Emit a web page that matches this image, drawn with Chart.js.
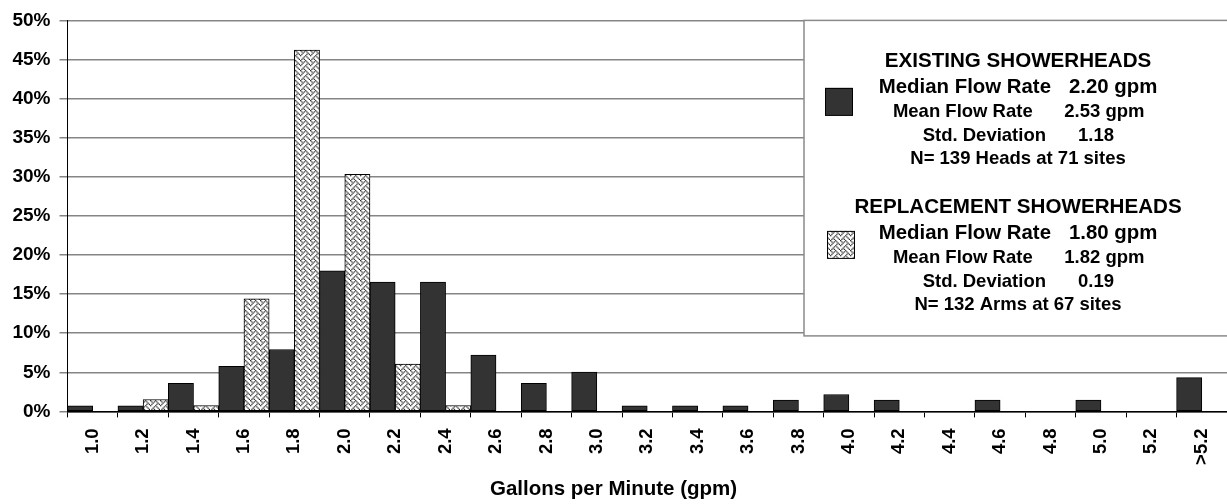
<!DOCTYPE html>
<html>
<head>
<meta charset="utf-8">
<script src="https://cdn.jsdelivr.net/npm/chart.js@4.4.1/dist/chart.umd.min.js"></script>
<style>
  html, body { margin: 0; padding: 0; background: #ffffff; }
  #c { display: block; }
</style>
</head>
<body>
<canvas id="c" width="1227" height="504"></canvas>
<script>
// ---- data ----
const categories = ['1.0','1.2','1.4','1.6','1.8','2.0','2.2','2.4','2.6','2.8','3.0','3.2','3.4','3.6','3.8','4.0','4.2','4.4','4.6','4.8','5.0','5.2','>5.2'];
const existingPct = [0.72,0.72,3.60,5.76,7.91,17.99,16.55,16.55,7.19,3.60,5.04,0.72,0.72,0.72,1.44,2.16,1.44,0,1.44,0,1.44,0,4.32];
const replacementPct = [0,1.52,0.76,14.39,46.21,30.30,6.06,0.76,0,0,0,0,0,0,0,0,0,0,0,0,0,0,0];
const yTicks = [0,5,10,15,20,25,30,35,40,45,50];
const xTitle = 'Gallons per Minute (gpm)';
const existingTitle = 'EXISTING SHOWERHEADS';
const existingLabels = ['Median Flow Rate','Mean Flow Rate','Std. Deviation'];
const existingValues = ['2.20 gpm','2.53 gpm','1.18'];
const existingN = 'N= 139 Heads at 71 sites';
const replacementTitle = 'REPLACEMENT SHOWERHEADS';
const replacementLabels = ['Median Flow Rate','Mean Flow Rate','Std. Deviation'];
const replacementValues = ['1.80 gpm','1.82 gpm','0.19'];
const replacementN = 'N= 132 Arms at 67 sites';

const FONT = 'Arial, "Liberation Sans", Helvetica, sans-serif';
const DARK = '#333333';

// weave pattern (slightly enlarged, smoothed)
function makePattern() {
  const bits = [0x88, 0x54, 0x22, 0x45, 0x88, 0x14, 0x22, 0x51];
  const base = document.createElement('canvas');
  base.width = 8; base.height = 8;
  const b = base.getContext('2d');
  b.fillStyle = '#ffffff';
  b.fillRect(0, 0, 8, 8);
  b.fillStyle = '#262626';
  for (let r = 0; r < 8; r++) {
    for (let c = 0; c < 8; c++) {
      if (bits[r] & (0x80 >> c)) b.fillRect(c, r, 1, 1);
    }
  }
  const pc = document.createElement('canvas');
  pc.width = 10; pc.height = 10;
  const p = pc.getContext('2d');
  p.imageSmoothingEnabled = true;
  p.drawImage(base, 0, 0, 10, 10);
  return p.createPattern(pc, 'repeat');
}
const weave = makePattern();

const legendBox = {
  id: 'legendBox',
  afterDraw(chart) {
    const ctx = chart.ctx;
    const ca = chart.chartArea;
    const left = ca.right - 423;
    const top = ca.top;
    const bottom = ca.top + 315.5;
    const right = ca.right + 2;
    ctx.save();
    ctx.fillStyle = '#ffffff';
    ctx.fillRect(left, top, right - left, bottom - top);
    ctx.strokeStyle = '#8a8a8a';
    ctx.lineWidth = 1.5;
    ctx.strokeRect(left, top, right - left, bottom - top);
    ctx.fillStyle = '#000000';
    const cx = left + 214;
    const blocks = [
      {y0: 0, title: existingTitle, labels: existingLabels, values: existingValues, n: existingN},
      {y0: 145.5, title: replacementTitle, labels: replacementLabels, values: replacementValues, n: replacementN}
    ];
    const labelRight = [33, 14.7, 28];
    const valueLeft = [51, 46.3, 60];
    const fonts = ['bold 20.4px ' + FONT, 'bold 18.5px ' + FONT, 'bold 18.5px ' + FONT];
    const lineBase = [72.6, 96.6, 120.6];
    blocks.forEach(b => {
      ctx.textBaseline = 'alphabetic';
      ctx.font = 'bold 20.6px ' + FONT;
      ctx.textAlign = 'center';
      ctx.fillText(b.title, cx, top + b.y0 + 46.6);
      for (let i = 0; i < 3; i++) {
        ctx.font = fonts[i];
        ctx.textAlign = 'right';
        ctx.fillText(b.labels[i], cx + labelRight[i], top + b.y0 + lineBase[i]);
        ctx.textAlign = 'left';
        ctx.fillText(b.values[i], cx + valueLeft[i], top + b.y0 + lineBase[i]);
      }
      ctx.font = 'bold 18.5px ' + FONT;
      ctx.textAlign = 'center';
      ctx.fillText(b.n, cx, top + b.y0 + 144);
    });
    // swatches
    ctx.lineWidth = 1;
    ctx.strokeStyle = '#000000';
    ctx.fillStyle = DARK;
    ctx.fillRect(left + 21, top + 67.5, 27.5, 27.5);
    ctx.strokeRect(left + 21.5, top + 68, 27, 27);
    ctx.fillStyle = weave;
    ctx.fillRect(left + 23, top + 210.5, 27.5, 27.5);
    ctx.strokeRect(left + 23.5, top + 211, 27, 27);
    ctx.restore();
  }
};

const chart = new Chart(document.getElementById('c'), {
  type: 'bar',
  data: {
    labels: categories,
    datasets: [
      { label: 'Existing Showerheads', data: existingPct, backgroundColor: DARK, borderColor: '#000000', borderWidth: 1, borderSkipped: false, categoryPercentage: 1.0, barPercentage: 1.0 },
      { label: 'Replacement Showerheads', data: replacementPct, backgroundColor: weave, borderColor: '#000000', borderWidth: 1, borderSkipped: false, categoryPercentage: 1.0, barPercentage: 1.0 }
    ]
  },
  options: {
    responsive: false,
    animation: false,
    devicePixelRatio: 1,
    layout: { padding: { top: 17, right: 0, left: 0, bottom: 0 } },
    plugins: {
      legend: { display: false },
      tooltip: { enabled: false },
      title: {
        display: true,
        position: 'bottom',
        text: xTitle,
        color: '#000000',
        font: { family: FONT, size: 20.5, weight: 'bold', lineHeight: 1.2 },
        padding: { top: 0, bottom: 2 }
      }
    },
    scales: {
      x: {
        offset: true,
        grid: { display: true, offset: true, drawOnChartArea: false, drawTicks: true, tickLength: 6, color: '#000000', lineWidth: 1 },
        border: { display: true, color: '#000000', width: 1.5 },
        ticks: {
          autoSkip: false, maxRotation: 90, minRotation: 90, padding: 11,
          color: '#000000', font: { family: FONT, size: 18.5, weight: 'bold' }
        },
        afterFit(scale) { scale.height = 66; scale.paddingLeft = 0; scale.paddingRight = 0; }
      },
      y: {
        min: 0, max: 50,
        afterBuildTicks(scale) { scale.ticks = yTicks.map(v => ({ value: v })); },
        grid: { color: '#858585', lineWidth: 1.5, drawTicks: true, tickLength: 8 },
        border: { display: true, color: '#000000', width: 1 },
        ticks: {
          padding: 9, color: '#000000',
          font: { family: FONT, size: 19, weight: 'bold' },
          callback: v => v + '%'
        },
        afterFit(scale) { scale.width = 67.5; }
      }
    }
  },
  plugins: [legendBox]
});
</script>
</body>
</html>
